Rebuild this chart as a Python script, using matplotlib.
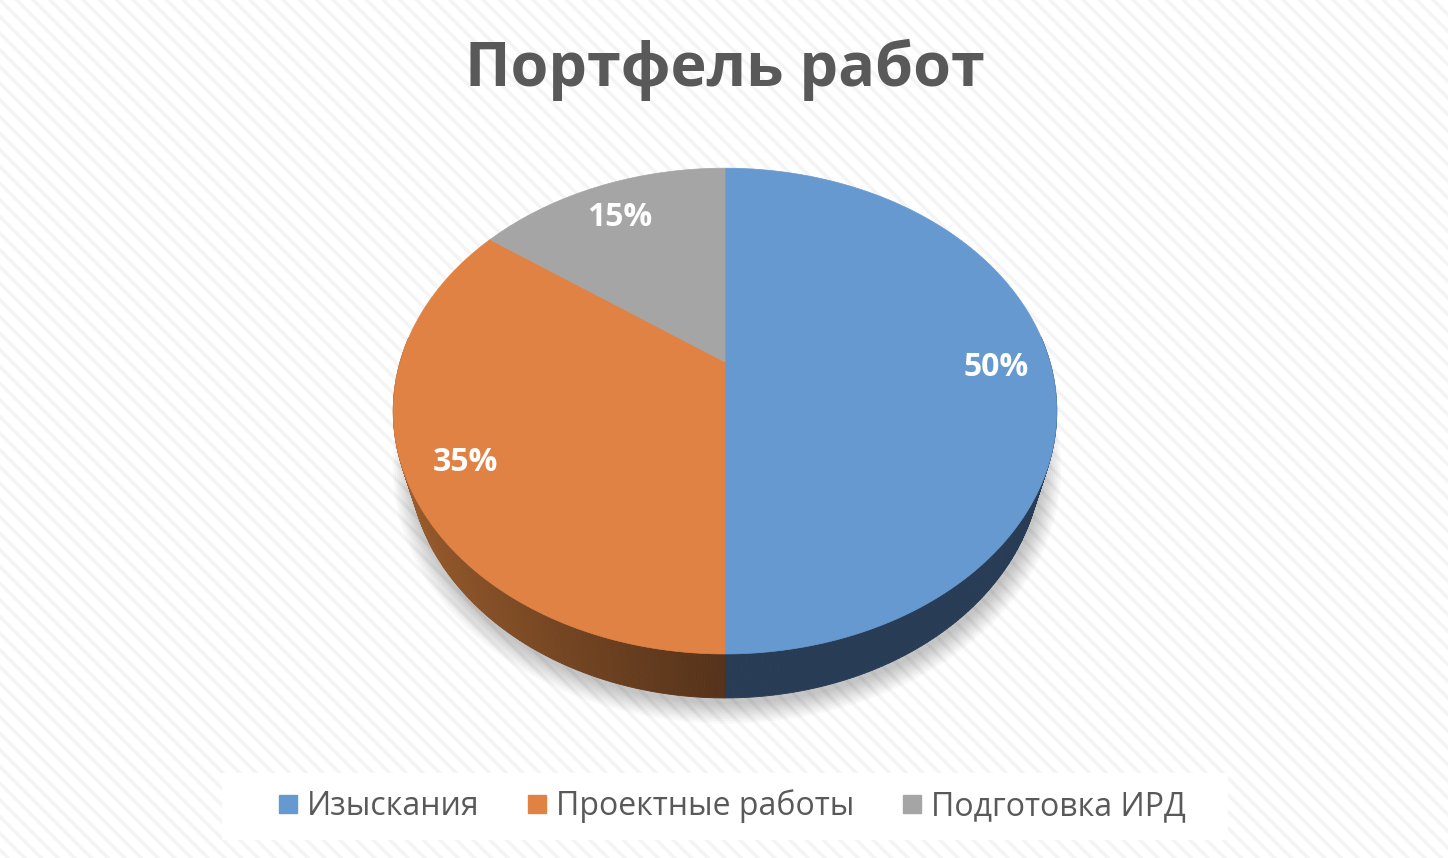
import numpy as np
import matplotlib
matplotlib.use("Agg")
import matplotlib.pyplot as plt
from matplotlib.patches import Polygon, Rectangle
from matplotlib.lines import Line2D

# ---- data ----
categories = ["Изыскания", "Проектные работы", "Подготовка ИРД"]
values = [50, 35, 15]
labels = ["50%", "35%", "15%"]
title = "Портфель работ"

top_colors = ["#6699CF", "#E08244", "#A5A5A5"]
side_dark = ["#283C55", "#55321A", "#4A4A4A"]
side_light = ["#283C55", "#A0602E", "#707070"]

plt.rcParams["hatch.linewidth"] = 2.5
plt.rcParams["hatch.color"] = "#F4F4F4"

W, H = 1448, 858
fig = plt.figure(figsize=(W / 100, H / 100), dpi=100)
ax = fig.add_axes([0, 0, 1, 1])
ax.set_xlim(0, W)
ax.set_ylim(H, 0)
ax.axis("off")

# background stripes
ax.add_patch(Rectangle((0, 0), W, H, facecolor="white", edgecolor="#F4F4F4",
                       hatch="\\\\", linewidth=0, zorder=0))

# ---- perspective projection of a disc (pie) ----
cx, cy = 725.0, 362.0
f, s, c, D, h = 1121.0, 0.717, 0.697, 3.45, 0.224


def proj(u, v, z):
    yc = v * s + z * c
    zc = D + v * c - z * s
    return cx + f * u / zc, cy - f * yc / zc


total = float(sum(values))
fracs = np.array(values) / total
starts = np.concatenate([[0], np.cumsum(fracs)[:-1]]) * 2 * np.pi
ends = np.cumsum(fracs) * 2 * np.pi

# soft shadow
for k in range(10):
    sc = 1.0 + 0.006 * k
    th = np.linspace(0, 2 * np.pi, 400)
    px, py = proj(sc * np.sin(th), sc * np.cos(th), -h)
    ax.add_patch(Polygon(np.column_stack([px + 2, py + 6]), closed=True,
                         facecolor="#000000", edgecolor="none", alpha=0.025, zorder=1))

# side walls
for i in range(len(values)):
    th = np.linspace(starts[i], ends[i], 300)
    for k in range(len(th) - 1):
        t0, t1 = th[k], th[k + 1]
        if np.cos(t0) > 0.1 and np.cos(t1) > 0.1:
            continue
        u0, v0, u1, v1 = np.sin(t0), np.cos(t0), np.sin(t1), np.cos(t1)
        a = proj(u0, v0, 0); b = proj(u1, v1, 0)
        bb = proj(u1, v1, -h); aa = proj(u0, v0, -h)
        w = np.clip((np.sin((t0 + t1) / 2) + 1.0), 0, 1)  # 0 at left, 1 at centre
        c0 = np.array(matplotlib.colors.to_rgb(side_light[i]))
        c1 = np.array(matplotlib.colors.to_rgb(side_dark[i]))
        col = c0 * (1 - w) + c1 * w
        ax.add_patch(Polygon([a, b, bb, aa], closed=True, facecolor=col,
                             edgecolor=col, linewidth=0.6, zorder=2))

# top faces
for i in range(len(values)):
    th = np.linspace(starts[i], ends[i], 300)
    px, py = proj(np.sin(th), np.cos(th), 0)
    ox, oy = proj(0, 0, 0)
    pts = np.column_stack([np.concatenate([[ox], px]), np.concatenate([[oy], py])])
    ax.add_patch(Polygon(pts, closed=True, facecolor=top_colors[i],
                         edgecolor=top_colors[i], linewidth=0.5, zorder=3))
    mid = (starts[i] + ends[i]) / 2
    r = 0.83
    lx, ly = proj(r * np.sin(mid), r * np.cos(mid), 0)
    ax.text(lx + 1, ly + 5, labels[i], color="white", fontsize=23, fontweight="bold",
            family="Open Sans", ha="center", va="center", zorder=5)

# title
ax.text(725, 70, title, color="#595959", fontsize=44, fontweight="bold",
        family="Open Sans", ha="center", va="center", zorder=5)

# legend
ax.add_patch(Rectangle((222, 773), 1006, 67, facecolor="white", edgecolor="none", zorder=4))
handles = [Line2D([], [], linestyle="none", marker="s", markersize=13,
                  markerfacecolor=col, markeredgecolor=col) for col in top_colors]
leg = ax.legend(handles, categories, loc="center", bbox_to_anchor=(732 / W, 1 - 806 / H),
                ncol=3, frameon=False, handlelength=0.6, handletextpad=0.3,
                columnspacing=1.5, prop={"family": "Open Sans", "size": 23})
for t in leg.get_texts():
    t.set_color("#595959")

fig.savefig("out.png", dpi=100)
